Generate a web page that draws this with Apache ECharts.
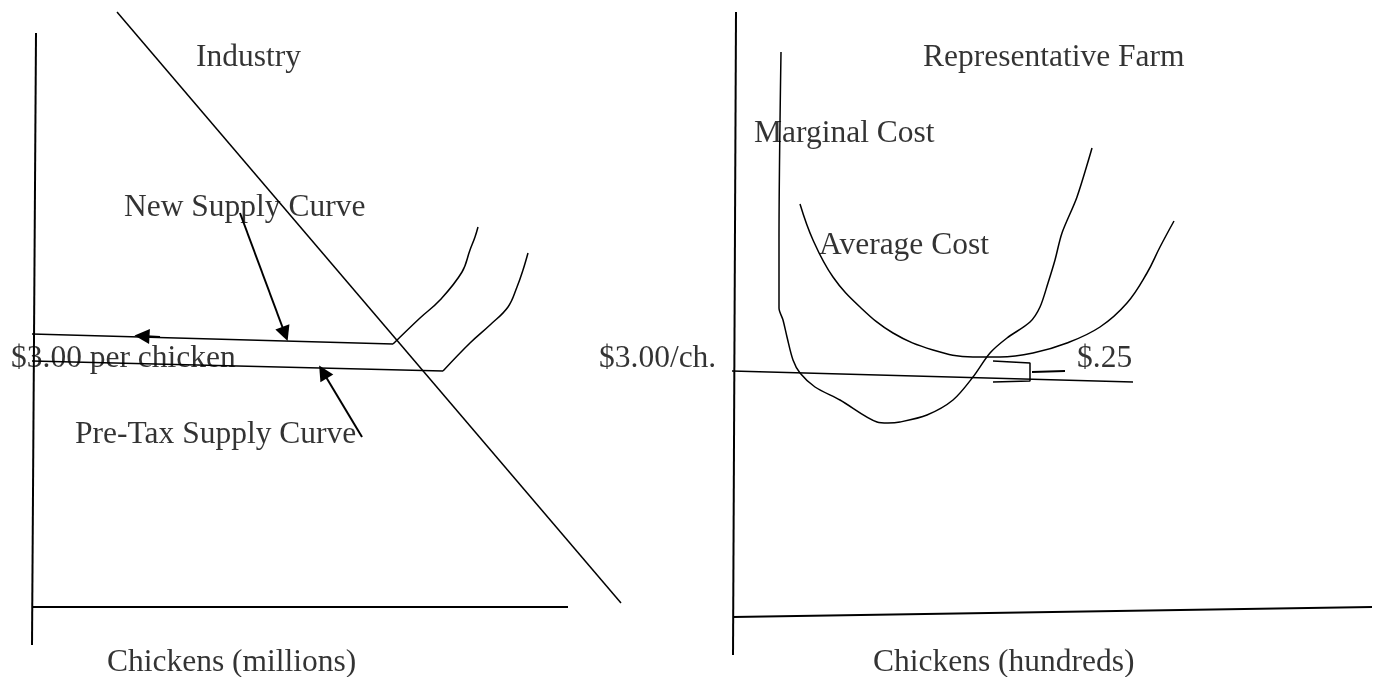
<!DOCTYPE html>
<html>
<head>
<meta charset="utf-8">
<script src="https://cdn.jsdelivr.net/npm/echarts@6/dist/echarts.min.js"></script>
<style>
  html, body { margin: 0; padding: 0; background: #fff; }
  #chart { width: 1381px; height: 677px; }
</style>
</head>
<body>
<div id="chart"></div>
<script>
// both panels share one hidden value scale (x right, y down)

// left panel: Industry
const industryYAxis = [[36, 33], [32, 645]];
const industryXAxis = [[32, 607], [568, 607]];
const demand = [[117, 12], [621, 603]];
const newSupplyFlat = [[32, 334], [393, 344]];
const newSupplyRise = [[393, 344], [420, 318], [440, 300], [462, 272], [470, 250], [475, 237], [478, 227]];
const preTaxFlat = [[32, 361], [443, 371]];
const preTaxRise = [[443, 371], [470, 343], [490, 325], [508, 307], [517, 287], [523, 270], [528, 253]];
const arrowNewSupply = [[240, 213], [285, 334]];
const arrowOnLine = [[160, 337], [142, 336]];
const arrowPreTax = [[362, 437], [323, 372]];

// right panel: Representative Farm
const farmYAxis = [[736, 12], [733, 655]];
const farmXAxis = [[733, 617], [1372, 607]];
const priceLine = [[732, 371], [1133, 382]];
const marginalCost = [[781, 52], [779, 240], [779, 308], [783, 320], [787, 337], [793, 360], [800, 373], [815, 387],
  [840, 400], [877, 422], [888, 423], [900, 422], [927, 415], [953, 400], [973, 377], [990, 353], [1007, 338],
  [1030, 322], [1040, 307], [1048, 283], [1055, 260], [1062, 233], [1077, 197], [1092, 148]];
const averageCost = [[800, 204], [813, 240], [833, 277], [860, 307], [893, 333], [933, 350], [973, 357], [1000, 357],
  [1033, 353], [1067, 343], [1100, 327], [1127, 303], [1147, 273], [1160, 247], [1174, 221]];
const bracket = [[993, 361], [1030, 363], [1030, 381], [993, 382]];
const bracketTick = [[1032, 372], [1065, 371]];

// text: [left x, middle y, text]
const labels = [
  [196, 57.4, 'Industry'],
  [124, 207.4, 'New Supply Curve'],
  [11, 358.4, '$3.00 per chicken'],
  [75, 434.4, 'Pre-Tax Supply Curve'],
  [107, 662.4, 'Chickens (millions)'],
  [923, 57.4, 'Representative Farm'],
  [754, 133.4, 'Marginal Cost'],
  [819, 245.4, 'Average Cost'],
  [599, 358.4, '$3.00/ch.'],
  [1077, 358.4, '$.25'],
  [873, 662.4, 'Chickens (hundreds)']
];

function stroke(data, width, smooth) {
  return {
    type: 'line',
    data: data,
    showSymbol: false,
    smooth: smooth || false,
    silent: true,
    lineStyle: { color: '#000', width: width }
  };
}

function arrow(data) {
  return {
    type: 'lines',
    coordinateSystem: 'cartesian2d',
    symbol: ['none', 'triangle'],
    symbolSize: 15,
    silent: true,
    lineStyle: { color: '#000', width: 2, opacity: 1 },
    data: [{ coords: data }]
  };
}

let myChart = echarts.init(document.getElementById('chart'));
let option = {
  animation: false,
  grid: { left: 0, right: 0, top: 0, bottom: 0 },
  xAxis: { type: 'value', min: 0, max: 1381, show: false },
  yAxis: { type: 'value', min: 0, max: 677, inverse: true, show: false },
  series: [
    stroke(industryYAxis, 2),
    stroke(industryXAxis, 2),
    stroke(demand, 1.5),
    stroke(newSupplyFlat, 1.5),
    stroke(newSupplyRise, 1.5, 0.4),
    stroke(preTaxFlat, 1.5),
    stroke(preTaxRise, 1.5, 0.4),
    arrow(arrowNewSupply),
    arrow(arrowOnLine),
    arrow(arrowPreTax),
    stroke(farmYAxis, 2),
    stroke(farmXAxis, 2),
    stroke(priceLine, 1.5),
    stroke(marginalCost, 1.5, 0.3),
    stroke(averageCost, 1.5, 0.4),
    stroke(bracket, 1.5),
    stroke(bracketTick, 2),
    {
      type: 'scatter',
      symbolSize: 0,
      silent: true,
      data: labels,
      label: {
        show: true,
        position: 'right',
        distance: 0,
        color: '#000',
        fontFamily: 'Liberation Serif',
        fontSize: 31.5,
        formatter: p => p.data[2]
      }
    }
  ]
};
myChart.setOption(option);
</script>
</body>
</html>
